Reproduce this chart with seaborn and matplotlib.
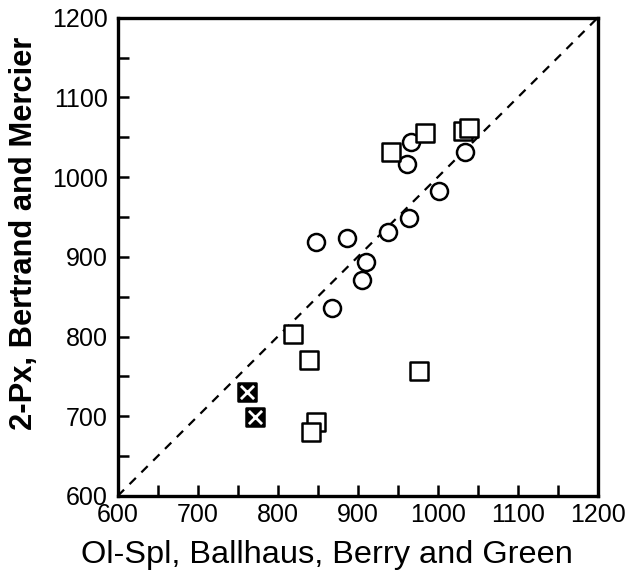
import matplotlib
matplotlib.use("Agg")
import matplotlib.pyplot as plt
import seaborn as sns
import pandas as pd
from matplotlib.ticker import MultipleLocator

# Olivine-spinel temperatures (x) vs. two-pyroxene temperatures (y)
circle_x = [967, 962, 1034, 1002, 964, 938, 887, 848, 910, 905, 868]
circle_y = [1044, 1017, 1032, 983, 949, 931, 923, 919, 894, 871, 836]

square_x = [984, 942, 1032, 1039, 819, 839, 977, 848, 841]
square_y = [1055, 1032, 1058, 1062, 803, 771, 757, 693, 680]

crossed_x = [761, 771]
crossed_y = [730, 699]

sns.set_theme(style="white")
plt.rcParams["font.family"] = ["Liberation Sans", "DejaVu Sans"]
plt.rcParams["text.color"] = "black"
plt.rcParams["axes.labelcolor"] = "black"
plt.rcParams["xtick.color"] = "black"
plt.rcParams["ytick.color"] = "black"

circles = pd.DataFrame({"x": circle_x, "y": circle_y})
squares = pd.DataFrame({"x": square_x, "y": square_y})
crossed = pd.DataFrame({"x": crossed_x, "y": crossed_y})

fig = plt.figure(figsize=(6.4, 5.72), dpi=100)
ax = fig.add_axes([0.184, 0.133, 0.750, 0.836])

# 1:1 reference line
ax.plot([600, 1200], [600, 1200], ls=(0, (4, 3.5)), color="black", lw=1.6, zorder=1)

sns.scatterplot(data=circles, x="x", y="y", marker="o", s=150, facecolor="white",
                edgecolor="black", linewidth=1.8, ax=ax, zorder=3)
sns.scatterplot(data=squares, x="x", y="y", marker="s", s=165, facecolor="white",
                edgecolor="black", linewidth=1.8, ax=ax, zorder=3)
sns.scatterplot(data=crossed, x="x", y="y", marker="s", s=165, facecolor="black",
                edgecolor="black", linewidth=1.8, ax=ax, zorder=3)
sns.scatterplot(data=crossed, x="x", y="y", marker="x", s=90, color="white",
                linewidth=2.0, ax=ax, zorder=4)

ax.set_xlim(600, 1200)
ax.set_ylim(600, 1200)
ax.xaxis.set_major_locator(MultipleLocator(100))
ax.xaxis.set_minor_locator(MultipleLocator(50))
ax.yaxis.set_major_locator(MultipleLocator(100))
ax.yaxis.set_minor_locator(MultipleLocator(50))
ax.tick_params(which="both", direction="in", length=8, width=1.8, color="black",
               top=False, right=False, bottom=True, left=True)
ax.tick_params(axis="x", which="major", pad=5)
ax.tick_params(axis="y", which="major", pad=7)
for lab in ax.get_xticklabels() + ax.get_yticklabels():
    lab.set_fontsize(18)
    lab.set_color("black")

for s in ax.spines.values():
    s.set_color("black")
    s.set_linewidth(2.4)

ax.set_xlabel("Ol-Spl, Ballhaus, Berry and Green", fontsize=23.4)
ax.set_ylabel("2-Px, Bertrand and Mercier", fontsize=22.2, fontweight="bold")
ax.xaxis.set_label_coords(0.435, -0.093)
ax.yaxis.set_label_coords(-0.165, 0.55)

fig.savefig("out.png", dpi=100, facecolor="white")
